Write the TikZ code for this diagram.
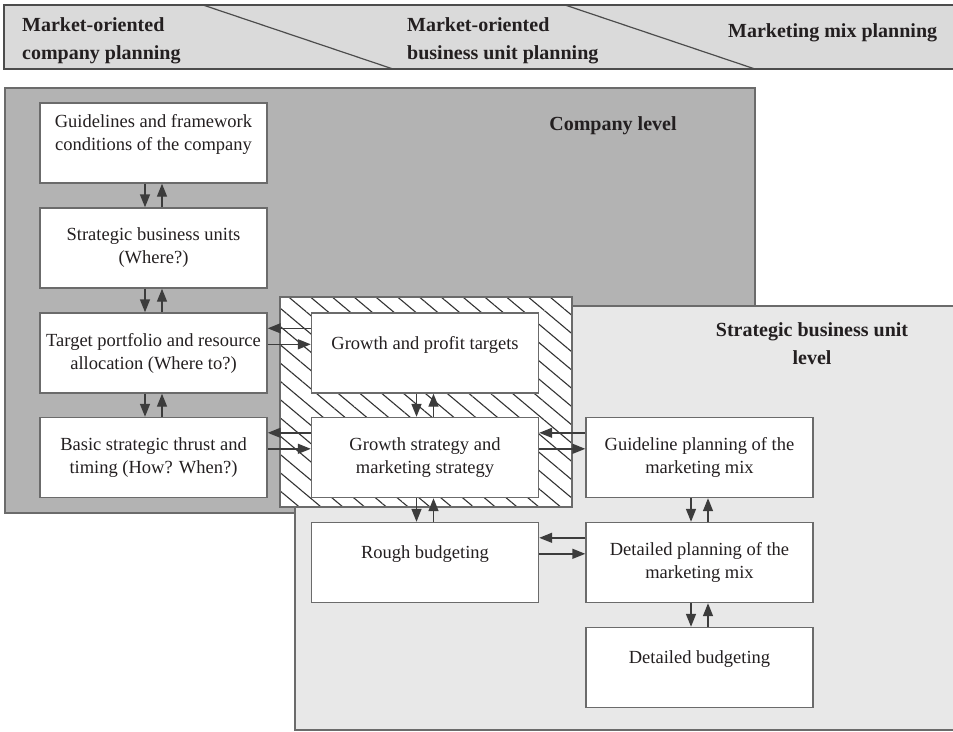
\documentclass[tikz,border=0pt]{standalone}
\usepackage{fontspec}
\setmainfont{Liberation Serif}
\usetikzlibrary{arrows.meta,patterns.meta}

\definecolor{bannergray}{HTML}{DADADA}
\definecolor{companygray}{HTML}{B3B3B3}
\definecolor{unitgray}{HTML}{E8E8E8}
\definecolor{edgegray}{HTML}{6B6B6B}
\definecolor{arrowgray}{HTML}{3C3C3C}
\definecolor{inkgray}{HTML}{231F20}

\begin{document}
\begin{tikzpicture}[x=1pt,y=-1pt,
    planbox/.style={draw=edgegray, line width=1.4pt, fill=white, minimum width=227pt, minimum height=80pt, inner sep=0pt, align=center, text=inkgray, font=\fontsize{18.5}{23}\selectfont},
    liftbox/.style={planbox, text depth=21pt},
    flow/.style={draw=arrowgray, line width=1.4pt, -{Triangle[length=13pt,width=10pt]}},
    heading/.style={align=left, inner sep=0pt, text=inkgray, font=\fontsize{20}{28}\selectfont\bfseries}]
\useasboundingbox (0,0) rectangle (953,731);

% planning phases
\draw[fill=bannergray, draw=black!70, line width=1.4pt] (4,5) rectangle (975,69);
\draw[black!70, line width=1.2pt] (203,5) -- (393,69);
\draw[black!70, line width=1.2pt] (565,5) -- (755,69);
\node[heading, anchor=west] (company-planning) at (22,41) {Market-oriented\\company planning};
\node[heading, anchor=west] (unit-planning) at (407,41) {Market-oriented\\business unit planning};
\node[heading, anchor=base west] (mix-planning) at (728,37) {Marketing mix planning};

% levels
\draw[fill=companygray, draw=edgegray, line width=1.4pt] (5,88) rectangle (755,513);
\node[heading, anchor=base] (company-level) at (613,130) {Company level};
\draw[fill=unitgray, draw=edgegray, line width=1.4pt] (295,306) rectangle (975,730);
\node[heading, align=center] (unit-level) at (812,344) {Strategic business unit\\level};
\draw[draw=edgegray, line width=1.4pt, preaction={fill=white}, pattern={Lines[angle=-40,distance=14pt,line width=1.1pt]}, pattern color=black!80] (280,297) rectangle (572,507);

\node[liftbox] (guidelines) at (153.5,143) {Guidelines and framework\\conditions of the company};
\node[planbox] (business-units) at (153.5,248) {Strategic business units\\(Where?)};
\node[planbox] (target-portfolio) at (153.5,353) {Target portfolio and resource\\allocation (Where to?)};
\node[planbox] (basic-thrust) at (153.5,457.5) {Basic strategic thrust and\\timing (How? When?)};
\node[liftbox] (profit-targets) at (425,353) {Growth and profit targets};
\node[planbox] (growth-strategy) at (425,457.5) {Growth strategy and\\marketing strategy};
\node[liftbox] (rough-budget) at (425,562.5) {Rough budgeting};
\node[planbox] (guideline-mix) at (699.5,457.5) {Guideline planning of the\\marketing mix};
\node[planbox] (detailed-mix) at (699.5,562.5) {Detailed planning of the\\marketing mix};
\node[liftbox] (detailed-budget) at (699.5,667.5) {Detailed budgeting};

% feedback loops
\foreach \tbox/\bbox in {guidelines/business-units, business-units/target-portfolio, target-portfolio/basic-thrust, profit-targets/growth-strategy, growth-strategy/rough-budget, guideline-mix/detailed-mix, detailed-mix/detailed-budget} {
  \draw[flow] ([xshift=-8.5pt]\tbox.south) -- ([xshift=-8.5pt]\bbox.north);
  \draw[flow] ([xshift=8.5pt]\bbox.north) -- ([xshift=8.5pt]\tbox.south);
}
\foreach \lbox/\rbox in {target-portfolio/profit-targets, basic-thrust/growth-strategy, growth-strategy/guideline-mix, rough-budget/detailed-mix} {
  \draw[flow] ([yshift=-16pt]\rbox.north west) -- ([yshift=-16pt]\lbox.north east);
  \draw[flow] ([yshift=-32pt]\lbox.north east) -- ([yshift=-32pt]\rbox.north west);
}
\end{tikzpicture}
\end{document}
